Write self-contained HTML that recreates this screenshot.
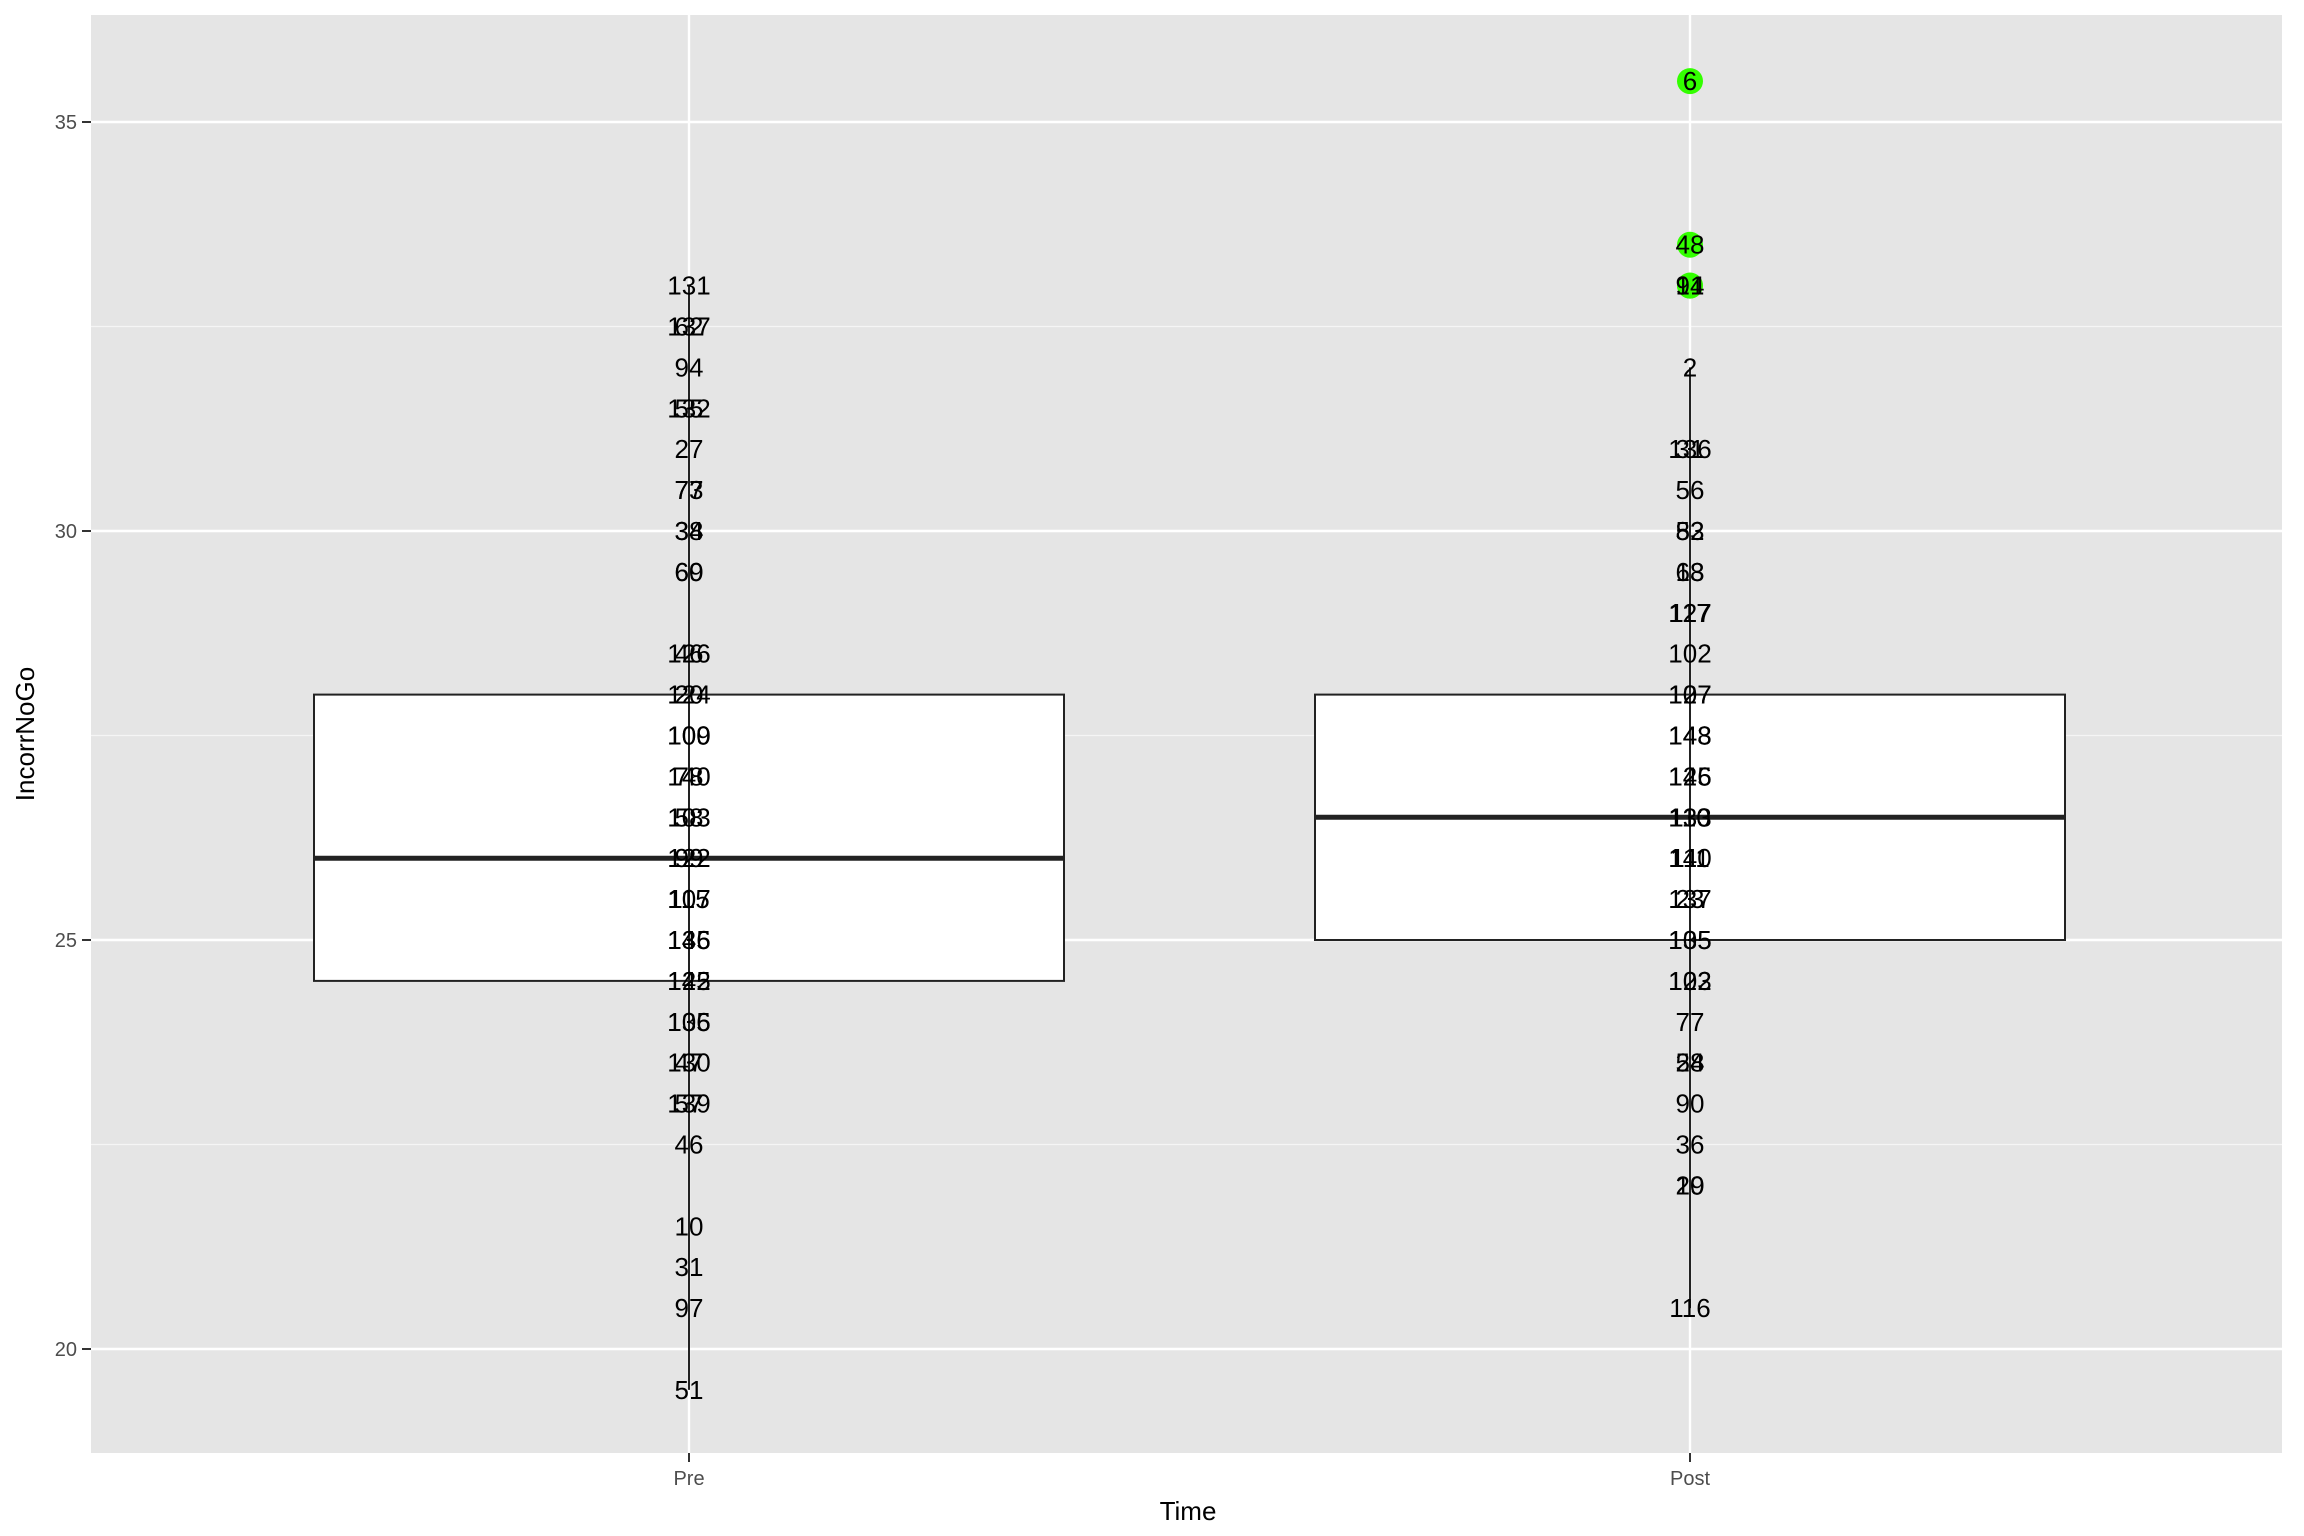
<!DOCTYPE html>
<html><head><meta charset="utf-8"><style>
body{margin:0;background:#fff;}
svg{display:block;font-family:"Liberation Sans",Arial,sans-serif;}
</style></head><body>
<svg id="chart" width="2304" height="1536" viewBox="0 0 2304 1536">
<rect x="91" y="15" width="2191" height="1438" fill="#e5e5e5"/>
<g id="grid"></g><g id="boxes"></g><g id="pts"></g><g id="labels"></g><g id="axes"></g>
<text x="1188" y="1520" font-size="26" text-anchor="middle" fill="#000">Time</text>
<text transform="translate(34,734) rotate(-90)" font-size="26" text-anchor="middle" fill="#000">IncorrNoGo</text>
</svg>
<script>
const categories = ["Pre","Post"];
const yTicks = [20,25,30,35];
const yMinor = [22.5,27.5,32.5];
const boxQ1 = [24.5,25];
const boxMedian = [26,26.5];
const boxQ3 = [28,28];
const whiskerLow = [19.5,20.5];
const whiskerHigh = [33,32];
const outlierCat = ["Post","Post","Post","Post"];
const outlierVals = [35.5,33.5,33,33];
const preLabels = ["131","137","62","94","132","55","27","77","73","34","38","60","69","126","46","124","20","109","100","140","78","103","58","122","99","115","107","135","146","142","125","136","105","130","47","139","57","46","10","31","97","51"];
const preVals = [33,32.5,32.5,32,31.5,31.5,31,30.5,30.5,30,30,29.5,29.5,28.5,28.5,28,28,27.5,27.5,27,27,26.5,26.5,26,26,25.5,25.5,25,25,24.5,24.5,24,24,23.5,23.5,23,23,22.5,21.5,21,20.5,19.5];
const postLabels = ["6","48","14","91","2","31","136","56","82","53","18","63","117","127","102","107","127","148","143","126","145","133","110","140","111","137","23","105","135","122","103","77","58","24","90","36","19","20","116"];
const postVals = [35.5,33.5,33,33,32,31,31,30.5,30,30,29.5,29.5,29,29,28.5,28,28,27.5,27.5,27,27,26.5,26.5,26,26,25.5,25.5,25,25,24.5,24.5,24,23.5,23.5,23,22.5,22,22,20.5];

const NS="http://www.w3.org/2000/svg";
const y = v => 1349 - (v-20)*81.8;
const x = c => [689,1690][categories.indexOf(c)];
const halfW = 375;
function mk(tag,attrs,parent,text){const e=document.createElementNS(NS,tag);for(const k in attrs)e.setAttribute(k,attrs[k]);if(text!==undefined)e.textContent=text;document.getElementById(parent).appendChild(e);return e;}

yMinor.forEach(v=>{const l=mk('line',{x1:91,x2:2282,y1:y(v),y2:y(v),stroke:'#f5f5f5','stroke-width':1.2},'grid');

});
yTicks.forEach(v=>{const l=mk('line',{x1:91,x2:2282,y1:y(v),y2:y(v),stroke:'#fff','stroke-width':2.4},'grid');


const t=mk('line',{x1:82,x2:91,y1:y(v),y2:y(v),stroke:'#333','stroke-width':2},'axes');


const tx=mk('text',{x:77,y:y(v)+7,'font-size':20,'text-anchor':'end',fill:'#4d4d4d'},'axes',v);

});
categories.forEach((c,i)=>{
const g=mk('line',{x1:x(c),x2:x(c),y1:15,y2:1453,stroke:'#fff','stroke-width':2.4},'grid');


const t=mk('line',{x1:x(c),x2:x(c),y1:1453,y2:1462,stroke:'#333','stroke-width':2},'axes');


const tx=mk('text',{x:x(c),y:1485,'font-size':20,'text-anchor':'middle',fill:'#4d4d4d'},'axes',c);


const w1=mk('line',{x1:x(c),x2:x(c),y1:y(whiskerHigh[i]),y2:y(boxQ3[i]),stroke:'#222','stroke-width':2},'boxes');


const w2=mk('line',{x1:x(c),x2:x(c),y1:y(boxQ1[i]),y2:y(whiskerLow[i]),stroke:'#222','stroke-width':2},'boxes');


const b=mk('rect',{x:x(c)-halfW,width:halfW*2,y:y(boxQ3[i]),height:y(boxQ1[i])-y(boxQ3[i]),fill:'#fff',stroke:'#222','stroke-width':2},'boxes');


const m=mk('line',{x1:x(c)-halfW,x2:x(c)+halfW,y1:y(boxMedian[i]),y2:y(boxMedian[i]),stroke:'#222','stroke-width':5},'boxes');


const w3=mk('line',{x1:x(c),x2:x(c),y1:y(boxQ3[i]),y2:y(boxQ1[i]),stroke:'#222','stroke-width':2},'boxes');


});
outlierVals.forEach((v,i)=>{const p=mk('circle',{cx:x(outlierCat[i]),cy:y(v),r:13,fill:'#33ff00'},'pts');

});
function lab(c,labels,vals){labels.forEach((s,i)=>{const t=mk('text',{x:x(c),y:y(vals[i])+9,'font-size':26,'text-anchor':'middle',fill:'#000'},'labels',s);

});}
lab("Pre",preLabels,preVals);
lab("Post",postLabels,postVals);
</script>
</body></html>
